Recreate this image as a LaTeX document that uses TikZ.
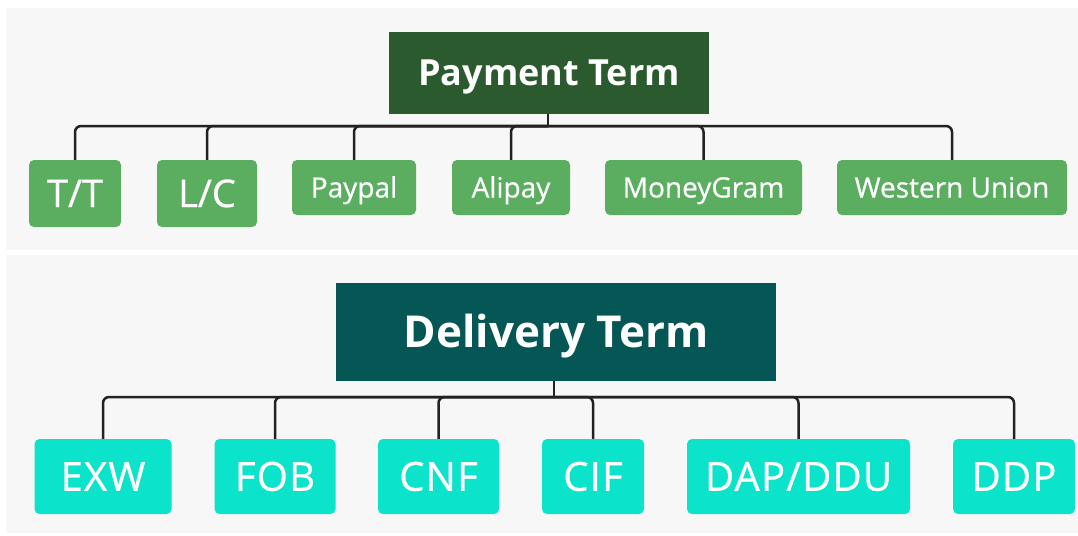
\documentclass[tikz,border=0pt]{standalone}
\usepackage{fontspec}
\setmainfont{Open Sans}
\newfontfamily\medfont[FakeBold=0.7]{Open Sans}
\newfontfamily\medwide[FakeBold=0.7,LetterSpace=3]{Open Sans}
\definecolor{panelgray}{HTML}{F7F7F7}
\definecolor{payhead}{HTML}{2C5A2F}
\definecolor{paychild}{HTML}{5BAD60}
\definecolor{delhead}{HTML}{045755}
\definecolor{delchild}{HTML}{0BE3CB}
\definecolor{conncol}{HTML}{222222}
\tikzset{
  hdr/.style={inner sep=0pt, text=white, text depth=0pt},
  kid/.style={inner sep=0pt, text=white, rounded corners=5pt, text depth=0pt},
  small/.style={font=\medfont\fontsize{28}{28}\selectfont, text height=20pt},
  big/.style={font=\medfont\fontsize{38}{38}\selectfont, text height=27pt},
  bigw/.style={font=\medwide\fontsize{40}{40}\selectfont, text height=28.5pt},
  conn/.style={draw=conncol, line width=2.5pt, rounded corners=6pt},
  stem/.style={draw=conncol, line width=2.5pt},
}
\begin{document}
\begin{tikzpicture}[x=1pt,y=-1pt]
\useasboundingbox (0,0) rectangle (1078,535);
\fill[white] (0,0) rectangle (1078,535);
\fill[panelgray] (6,8) rectangle (1078,250);
\fill[panelgray] (6,255) rectangle (1078,533);

% Payment term
\node[hdr, fill=payhead, minimum width=320pt, minimum height=82pt, font=\bfseries\fontsize{36}{36}\selectfont, text height=25.7pt] (pay) at (549,73) {Payment Term};
\node[kid, fill=paychild, minimum width=92pt, minimum height=67pt, big] (tt) at (75,193.5) {T/T};
\node[kid, fill=paychild, minimum width=100pt, minimum height=67pt, big] (lc) at (207,193.5) {L/C};
\node[kid, fill=paychild, minimum width=124pt, minimum height=55pt, small] (pp) at (354,187.5) {Paypal};
\node[kid, fill=paychild, minimum width=118pt, minimum height=55pt, small] (ali) at (511,187.5) {Alipay};
\node[kid, fill=paychild, minimum width=197pt, minimum height=55pt, small] (mg) at (703.5,187.5) {MoneyGram};
\node[kid, fill=paychild, minimum width=230pt, minimum height=55pt, small] (wu) at (952,187.5) {Western Union};

\coordinate (pj) at (548,126);
\draw[stem] (pay.south -| pj) -- (pj);
\foreach \c in {tt,lc,pp,ali,mg,wu}{
  \draw[conn] (pj) -| (\c.north);
}

% Delivery term
\node[hdr, fill=delhead, minimum width=440pt, minimum height=98pt, font=\bfseries\fontsize{44}{44}\selectfont, text height=31.4pt] (del) at (556,332) {Delivery Term};
\node[kid, fill=delchild, minimum width=137pt, minimum height=75pt, bigw] (exw) at (103,476.5) {EXW};
\node[kid, fill=delchild, minimum width=121pt, minimum height=75pt, bigw] (fob) at (275,476.5) {FOB};
\node[kid, fill=delchild, minimum width=121pt, minimum height=75pt, bigw] (cnf) at (438.5,476.5) {CNF};
\node[kid, fill=delchild, minimum width=102pt, minimum height=75pt, bigw] (cif) at (593,476.5) {CIF};
\node[kid, fill=delchild, minimum width=223pt, minimum height=75pt, bigw] (dap) at (798.5,476.5) {DAP/DDU};
\node[kid, fill=delchild, minimum width=122pt, minimum height=75pt, bigw] (ddp) at (1014,476.5) {DDP};

\coordinate (dj) at (554,397);
\draw[stem] (del.south -| dj) -- (dj);
\foreach \c in {exw,fob,cnf,cif,dap,ddp}{
  \draw[conn] (dj) -| (\c.north);
}
\end{tikzpicture}
\end{document}
